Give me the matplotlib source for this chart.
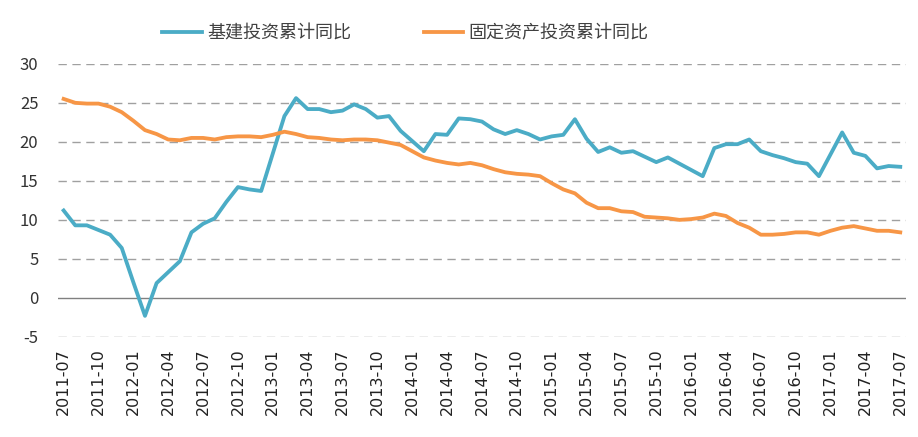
import numpy as np
import matplotlib
matplotlib.use("Agg")
from matplotlib import pyplot as plt

plt.rcParams['font.family'] = ['Noto Sans CJK SC', 'DejaVu Sans']

# monthly data, 2011-07 .. 2017-07
months = []
for y in range(2011, 2018):
    for m in range(1, 13):
        if (y, m) >= (2011, 7) and (y, m) <= (2017, 7):
            months.append("%d-%02d" % (y, m))

infra = [11.2, 9.3, 9.3, 8.7, 8.1, 6.4, 2.0, -2.3, 1.9, 3.3, 4.7, 8.4,
         9.5, 10.2, 12.3, 14.2, 13.9, 13.7, 18.5, 23.3, 25.6, 24.2, 24.2, 23.8,
         24.0, 24.8, 24.2, 23.1, 23.3, 21.4, 20.1, 18.8, 21.0, 20.9, 23.0, 22.9,
         22.6, 21.6, 21.0, 21.5, 21.0, 20.3, 20.7, 20.9, 22.9, 20.4, 18.7, 19.3,
         18.6, 18.8, 18.1, 17.4, 18.0, 17.2, 16.4, 15.6, 19.2, 19.7, 19.7, 20.3,
         18.8, 18.3, 17.9, 17.4, 17.2, 15.6, 18.4, 21.2, 18.6, 18.2, 16.6, 16.9,
         16.8]

fixed = [25.5, 25.0, 24.9, 24.9, 24.5, 23.8, 22.7, 21.5, 21.0, 20.3, 20.2, 20.5,
         20.5, 20.3, 20.6, 20.7, 20.7, 20.6, 20.9, 21.3, 21.0, 20.6, 20.5, 20.3,
         20.2, 20.3, 20.3, 20.2, 19.9, 19.6, 18.8, 18.0, 17.6, 17.3, 17.1, 17.3,
         17.0, 16.5, 16.1, 15.9, 15.8, 15.6, 14.7, 13.9, 13.4, 12.2, 11.5, 11.5,
         11.1, 11.0, 10.4, 10.3, 10.2, 10.0, 10.1, 10.3, 10.8, 10.5, 9.6, 9.0,
         8.1, 8.1, 8.2, 8.4, 8.4, 8.1, 8.6, 9.0, 9.2, 8.9, 8.6, 8.6,
         8.4]

yticks = [-5, 0, 5, 10, 15, 20, 25, 30]

fig = plt.figure(figsize=(9.18, 4.37), dpi=100)
ax = fig.add_axes([0.063, 0.229, 0.924, 0.625])

x = np.arange(len(months))
for t in yticks:
    if t == 0:
        ax.axhline(t, color='#808080', lw=1.0, zorder=1)
    else:
        ax.axhline(t, color='#a0a0a0', lw=1.0, ls=(0, (6, 4)), zorder=1)

ax.plot(x, infra, color='#4bacc6', lw=2.75, label='基建投资累计同比', zorder=3)
ax.plot(x, fixed, color='#f79646', lw=2.75, label='固定资产投资累计同比', zorder=3)

ax.set_xlim(-0.5, len(months) - 0.5)
ax.set_ylim(-5, 30)
ax.set_yticks(yticks)
ax.set_yticklabels([str(t) for t in yticks], fontsize=12, color='#333333')
ax.set_xticks(x[::3])
ax.set_xticklabels(months[::3], rotation=90, fontsize=11.5, color='#222222',
                   family='DejaVu Sans')
ax.tick_params(length=0)
ax.tick_params(axis='y', pad=14)
ax.tick_params(axis='x', pad=8)
for s in ax.spines.values():
    s.set_visible(False)

leg = ax.legend(loc='lower center', bbox_to_anchor=(0.41, 1.02), ncol=2,
                frameon=False, fontsize=13, handlelength=2.2, columnspacing=4,
                handletextpad=0.3)
for t in leg.get_texts():
    t.set_color('#404040')

fig.savefig('out.png', dpi=100)
